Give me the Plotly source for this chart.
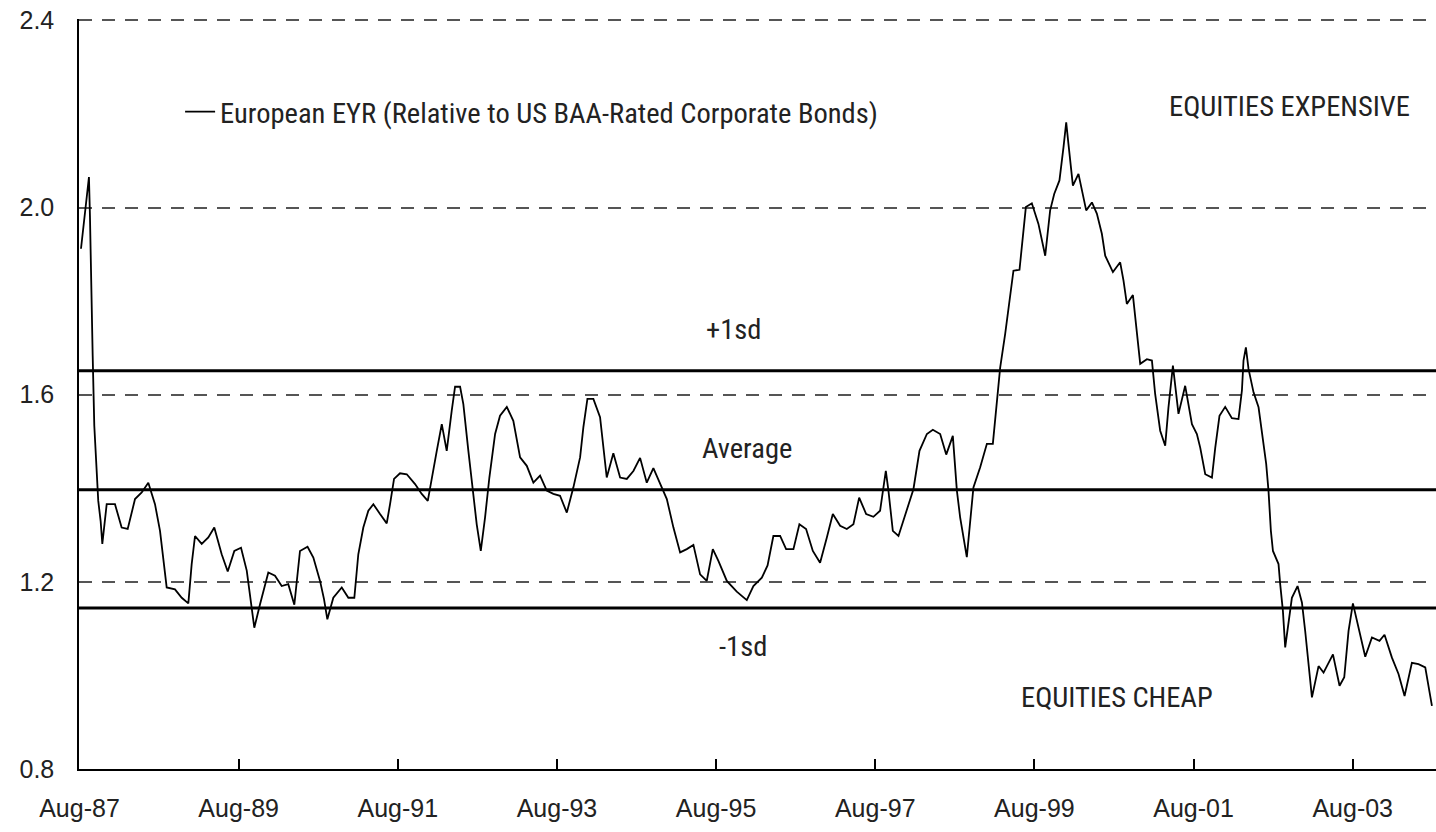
import plotly.graph_objects as go

# Time as decimal years
t_year = [
    1987.602, 1987.631, 1987.652, 1987.681, 1987.702, 1987.715, 1987.728, 1987.749, 1987.769, 1987.794,
    1987.819, 1987.849, 1987.870, 1987.925, 1988.029, 1988.113, 1988.189, 1988.281, 1988.365, 1988.448,
    1988.532, 1988.595, 1988.636, 1988.679, 1988.783, 1988.868, 1988.951, 1988.993, 1989.035, 1989.119,
    1989.202, 1989.277, 1989.370, 1989.446, 1989.529, 1989.613, 1989.685, 1989.739, 1989.780, 1989.852,
    1989.956, 1990.040, 1990.124, 1990.207, 1990.283, 1990.354, 1990.449, 1990.522, 1990.606, 1990.656,
    1990.698, 1990.773, 1990.879, 1990.962, 1991.037, 1991.087, 1991.150, 1991.213, 1991.276, 1991.360,
    1991.444, 1991.486, 1991.536, 1991.611, 1991.696, 1991.800, 1991.884, 1991.960, 1992.010, 1992.073,
    1992.136, 1992.198, 1992.261, 1992.303, 1992.366, 1992.407, 1992.470, 1992.533, 1992.575, 1992.626,
    1992.680, 1992.734, 1992.806, 1992.868, 1992.953, 1993.035, 1993.120, 1993.204, 1993.287, 1993.371,
    1993.455, 1993.538, 1993.622, 1993.707, 1993.790, 1993.874, 1993.915, 1993.966, 1994.041, 1994.125,
    1994.167, 1994.209, 1994.292, 1994.377, 1994.461, 1994.544, 1994.628, 1994.712, 1994.795, 1994.879,
    1994.964, 1995.047, 1995.131, 1995.215, 1995.298, 1995.382, 1995.466, 1995.542, 1995.612, 1995.718,
    1995.843, 1995.969, 1996.052, 1996.158, 1996.230, 1996.303, 1996.388, 1996.463, 1996.555, 1996.630,
    1996.714, 1996.799, 1996.890, 1996.975, 1997.050, 1997.142, 1997.226, 1997.309, 1997.381, 1997.469,
    1997.560, 1997.644, 1997.716, 1997.749, 1997.804, 1997.875, 1997.980, 1998.063, 1998.139, 1998.232,
    1998.307, 1998.399, 1998.475, 1998.558, 1998.609, 1998.650, 1998.734, 1998.776, 1998.817, 1998.902,
    1998.986, 1999.061, 1999.112, 1999.153, 1999.216, 1999.257, 1999.320, 1999.396, 1999.438, 1999.476,
    1999.551, 1999.634, 1999.719, 1999.781, 1999.832, 1999.898, 1999.949, 1999.983, 2000.011, 2000.067,
    2000.137, 2000.234, 2000.306, 2000.368, 2000.431, 2000.473, 2000.570, 2000.661, 2000.703, 2000.745,
    2000.821, 2000.871, 2000.913, 2000.997, 2001.060, 2001.101, 2001.164, 2001.227, 2001.268, 2001.324,
    2001.394, 2001.478, 2001.563, 2001.625, 2001.667, 2001.730, 2001.814, 2001.856, 2001.909, 2001.981,
    2002.065, 2002.148, 2002.191, 2002.211, 2002.241, 2002.274, 2002.337, 2002.400, 2002.455, 2002.496,
    2002.525, 2002.555, 2002.581, 2002.651, 2002.672, 2002.706, 2002.735, 2002.777, 2002.819, 2002.890,
    2002.945, 2002.986, 2003.028, 2003.071, 2003.154, 2003.217, 2003.335, 2003.418, 2003.477, 2003.531,
    2003.586, 2003.657, 2003.741, 2003.825, 2003.920, 2003.983, 2004.076, 2004.159, 2004.235, 2004.327,
    2004.410, 2004.495, 2004.579,
]

eyr = [
    1.912, 1.955, 1.990, 2.022, 2.065, 1.979, 1.833, 1.683, 1.534, 1.462,
    1.373, 1.330, 1.281, 1.366, 1.366, 1.316, 1.313, 1.377, 1.391, 1.412,
    1.366, 1.309, 1.252, 1.188, 1.184, 1.166, 1.154, 1.238, 1.298, 1.281,
    1.295, 1.316, 1.259, 1.222, 1.266, 1.273, 1.224, 1.152, 1.102, 1.152,
    1.220, 1.213, 1.191, 1.195, 1.151, 1.266, 1.275, 1.252, 1.202, 1.163,
    1.120, 1.166, 1.188, 1.166, 1.166, 1.259, 1.316, 1.352, 1.366, 1.345,
    1.325, 1.366, 1.420, 1.432, 1.430, 1.409, 1.388, 1.373, 1.423, 1.480,
    1.537, 1.480, 1.566, 1.617, 1.617, 1.580, 1.480, 1.380, 1.323, 1.266,
    1.338, 1.423, 1.516, 1.555, 1.574, 1.544, 1.466, 1.448, 1.412, 1.427,
    1.395, 1.388, 1.384, 1.348, 1.402, 1.466, 1.530, 1.591, 1.591, 1.552,
    1.480, 1.423, 1.475, 1.423, 1.420, 1.437, 1.465, 1.412, 1.443, 1.409,
    1.377, 1.316, 1.263, 1.270, 1.279, 1.216, 1.202, 1.270, 1.245, 1.202,
    1.179, 1.161, 1.191, 1.209, 1.235, 1.298, 1.298, 1.270, 1.270, 1.323,
    1.313, 1.266, 1.241, 1.295, 1.345, 1.320, 1.313, 1.323, 1.380, 1.345,
    1.339, 1.352, 1.437, 1.395, 1.309, 1.298, 1.352, 1.398, 1.480, 1.516,
    1.525, 1.516, 1.472, 1.512, 1.395, 1.338, 1.253, 1.323, 1.402, 1.445,
    1.495, 1.495, 1.587, 1.658, 1.730, 1.787, 1.865, 1.867, 1.944, 2.001,
    2.009, 1.965, 1.897, 1.994, 2.029, 2.058, 2.129, 2.182, 2.136, 2.047,
    2.072, 1.994, 2.011, 1.987, 1.944, 1.897, 1.862, 1.883, 1.844, 1.794,
    1.813, 1.730, 1.666, 1.676, 1.673, 1.601, 1.523, 1.491, 1.573, 1.662,
    1.559, 1.619, 1.537, 1.516, 1.487, 1.430, 1.423, 1.487, 1.555, 1.574,
    1.550, 1.548, 1.609, 1.673, 1.701, 1.655, 1.605, 1.573, 1.502, 1.452,
    1.395, 1.309, 1.266, 1.238, 1.195, 1.138, 1.060, 1.110, 1.166, 1.191,
    1.156, 1.095, 1.024, 0.953, 1.020, 1.006, 1.045, 0.978, 0.996, 1.095,
    1.154, 1.102, 1.040, 1.081, 1.074, 1.087, 1.038, 1.003, 0.956, 1.027,
    1.024, 1.017, 0.935,
]

plus_1sd = 1.651
average = 1.397
minus_1sd = 1.144

tick_years = [1987, 1989, 1991, 1993, 1995, 1997, 1999, 2001, 2003]
tick_labels = ["Aug-87", "Aug-89", "Aug-91", "Aug-93", "Aug-95", "Aug-97", "Aug-99", "Aug-01", "Aug-03"]
y_ticks = [0.8, 1.2, 1.6, 2.0, 2.4]
y_tick_labels = ["0.8", "1.2", "1.6", "2.0", "2.4"]

TEXT_FONT = "Roboto Condensed, Liberation Sans, sans-serif"
TICK_FONT = "Liberation Sans, Arial, sans-serif"

fig = go.Figure()
fig.add_trace(go.Scatter(
    x=t_year, y=eyr, mode="lines",
    line=dict(color="black", width=1.8),
    name="European EYR (Relative to US BAA-Rated Corporate Bonds)",
))

for lvl in (plus_1sd, average, minus_1sd):
    fig.add_hline(y=lvl, line=dict(color="black", width=3), layer="above")

ann_font = dict(family=TEXT_FONT, size=28.5, color="#222")
annots = [
    ("+1sd", 0.482, 0.586),
    ("Average", 0.492, 0.427),
    ("-1sd", 0.489, 0.164),
    ("EQUITIES EXPENSIVE", 0.892, 0.883),
    ("EQUITIES CHEAP", 0.765, 0.096),
]
for text, ax, ay in annots:
    fig.add_annotation(text=text, x=ax, y=ay, xref="paper", yref="paper",
                       showarrow=False, font=ann_font, xanchor="center", yanchor="middle")

fig.update_layout(
    width=1436, height=832,
    margin=dict(l=79, r=0, t=19, b=63, autoexpand=False),
    paper_bgcolor="white", plot_bgcolor="white",
    font=dict(family=TICK_FONT, size=25, color="#222"),
    showlegend=True,
    legend=dict(x=0.0745, y=0.876, xanchor="left", yanchor="middle",
                bgcolor="rgba(0,0,0,0)", borderwidth=0,
                font=dict(family=TEXT_FONT, size=28.5, color="#222")),
    xaxis=dict(
        range=[1987.577, 2004.63],
        tickvals=[y + 7 / 12 for y in tick_years], ticktext=tick_labels,
        ticks="inside", ticklen=10, tickcolor="black", tickwidth=1.5,
        showline=True, linecolor="black", linewidth=1.5,
        showgrid=False, zeroline=False, automargin=False,
        ticklabelstandoff=16,
        tickfont=dict(family=TICK_FONT, size=25, color="#222"),
    ),
    yaxis=dict(
        range=[0.8, 2.403],
        tickvals=y_ticks, ticktext=y_tick_labels,
        ticks="", showline=True, linecolor="black", linewidth=1.5,
        showgrid=True, gridcolor="#555", gridwidth=1.5, griddash="13px,10px",
        zeroline=False, automargin=False, ticklabelstandoff=18,
        tickfont=dict(family=TICK_FONT, size=25, color="#222"),
    ),
)

fig.write_html("out.html",
               config={"displayModeBar": False},
               post_script="document.body.style.margin='0px';document.body.style.overflow='hidden';")
